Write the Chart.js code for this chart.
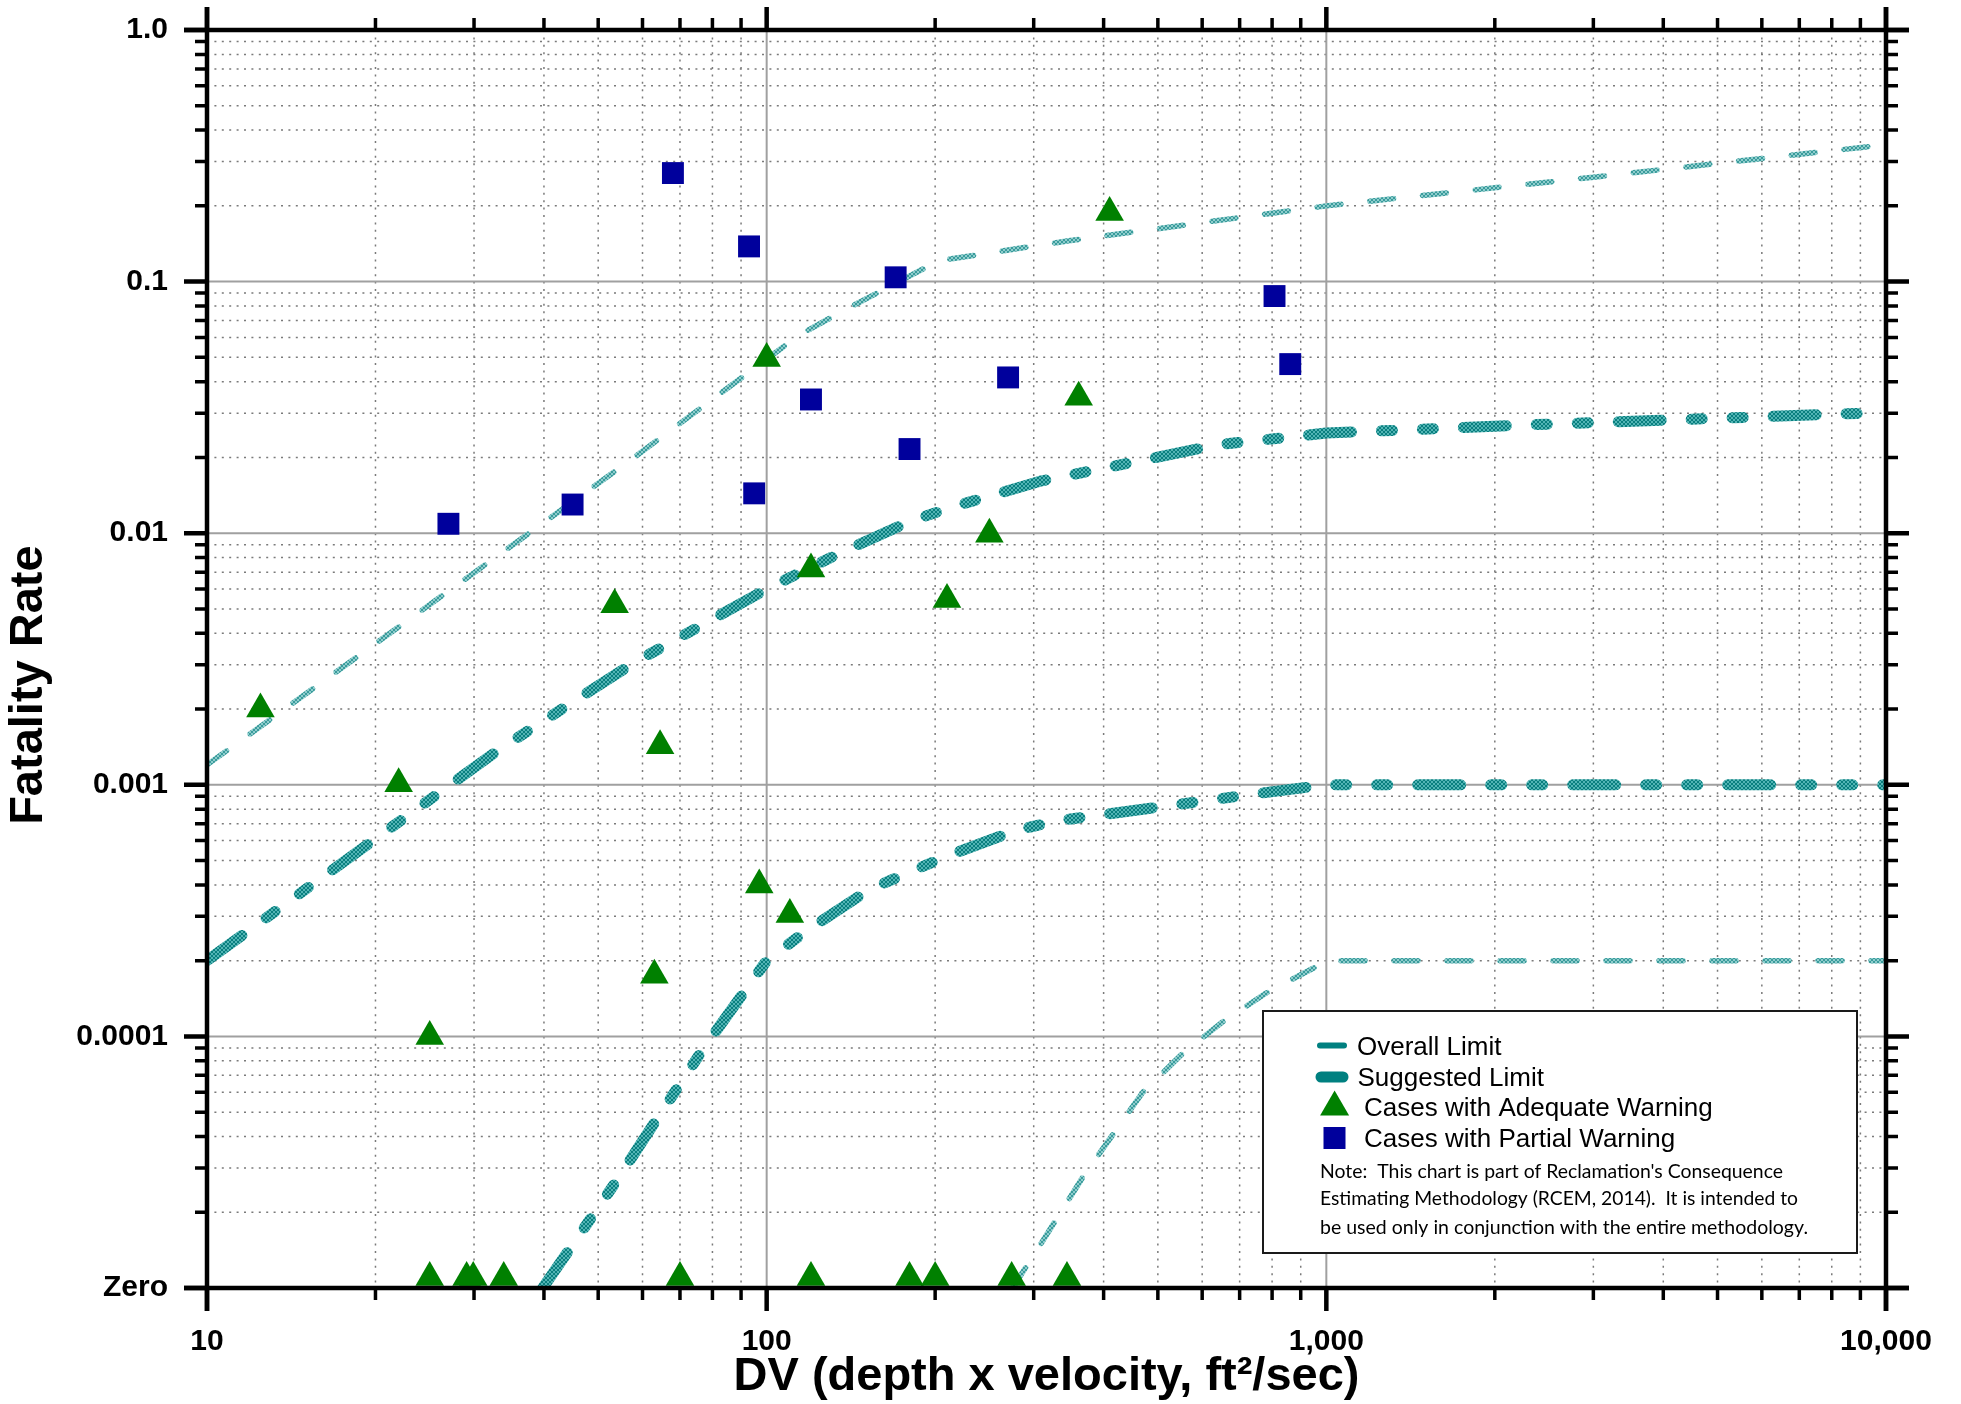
<!DOCTYPE html>
<html>
<head>
<meta charset="utf-8">
<title>Fatality Rate vs DV</title>
<script src="https://cdn.jsdelivr.net/npm/chart.js@4.4.1/dist/chart.umd.min.js"></script>
<style>
  html, body { margin: 0; padding: 0; background: #fff; }
  #wrap { width: 1961px; height: 1404px; position: relative; }
</style>
</head>
<body>
<div id="wrap"><canvas id="fatalityChart"></canvas></div>
<script>
// Axis ticks
const xTickValues = [10, 100, 1000, 10000];
const xTickLabels = ['10', '100', '1,000', '10,000'];
const yTickValues = [0.00001, 0.0001, 0.001, 0.01, 0.1, 1];
const yTickLabels = ['Zero', '0.0001', '0.001', '0.01', '0.1', '1.0'];

// Overall limit curves (DV, fatality rate)
const overallUpperX = [10, 28.1, 56.7, 114, 137, 203, 344, 1000, 3000, 10000];
const overallUpperY = [0.0012, 0.00627, 0.0193, 0.061, 0.0766, 0.121, 0.145, 0.2, 0.26, 0.35];
const overallLowerX = [275, 308, 368, 470, 550, 650, 782, 949, 1000, 10000];
const overallLowerY = [0.00001, 0.0000148, 0.0000278, 0.00006, 0.0000843, 0.0001135, 0.000149, 0.000187, 0.0002, 0.0002];

// Suggested limit curves
const suggestedUpperX = [10, 19.9, 33.4, 57.7, 102, 138, 182, 217, 308, 643, 1000, 2353, 10000];
const suggestedUpperY = [0.0002, 0.000605, 0.00139, 0.00304, 0.00614, 0.00852, 0.01124, 0.0128, 0.0161, 0.0225, 0.025, 0.027, 0.0302];
const suggestedMiddleX = [39.8, 44.5, 54, 64, 77.2, 92, 100, 117.3, 152.7, 210, 280, 333, 532, 748, 1000, 10000];
const suggestedMiddleY = [0.00001, 0.0000143, 0.0000268, 0.0000478, 0.0000898, 0.0001545, 0.0002, 0.000261, 0.000384, 0.000521, 0.000661, 0.000721, 0.00083, 0.000921, 0.001, 0.001];

// Case histories
const adequateX = [410, 361, 100, 120, 250, 210, 53.5, 12.46, 22, 64.5, 97, 110, 63, 25,
                   25, 29.1, 29.9, 33.9, 70, 120, 180, 200, 274, 344];
const adequateY = [0.188, 0.0347, 0.0495, 0.0072, 0.0099, 0.00545, 0.0052, 0.002, 0.00101, 0.00143, 0.0004, 0.000305, 0.000175, 0.0001,
                   0.000011, 0.000011, 0.000011, 0.000011, 0.000011, 0.000011, 0.000011, 0.000011, 0.000011, 0.000011];
const partialX = [68, 93, 170, 120, 270, 180, 95, 45, 27, 808, 862];
const partialY = [0.27, 0.138, 0.104, 0.034, 0.0416, 0.0216, 0.0144, 0.013, 0.0109, 0.0876, 0.047];

const noteLines = [
  "Note:  This chart is part of Reclamation's Consequence",
  "Estimating Methodology (RCEM, 2014).  It is intended to",
  "be used only in conjunction with the entire methodology."
];

Chart.defaults.font.family = '"Liberation Sans", Arial, sans-serif';
Chart.defaults.color = '#000';

const canvas = document.getElementById('fatalityChart');
const ctx = canvas.getContext('2d');

// small crosshatch tile for the limit lines
function hatch(base, line) {
  const tile = document.createElement('canvas');
  tile.width = 4;
  tile.height = 4;
  const t = tile.getContext('2d');
  t.fillStyle = base;
  t.fillRect(0, 0, 4, 4);
  t.fillStyle = line;
  for (let i = 0; i < 4; i++) {
    t.fillRect(i, i, 1, 1);
    t.fillRect(3 - i, i, 1, 1);
  }
  return ctx.createPattern(tile, 'repeat');
}

const toPoints = (xs, ys) => xs.map((x, i) => ({ x, y: ys[i] }));

function minorValues(decades) {
  const out = [];
  decades.forEach(d => { for (let k = 2; k <= 9; k++) out.push(k * d); });
  return out;
}
const xMinor = minorValues([10, 100, 1000]);
const yMinor = minorValues([0.00001, 0.0001, 0.001, 0.01, 0.1]);

const overallStyle = {
  showLine: true, pointRadius: 0, pointHoverRadius: 0, pointHitRadius: 0,
  borderWidth: 5.5, borderColor: hatch('#8fcdcd', '#3a9c9c'),
  borderDash: [24, 29], borderCapStyle: 'round', borderJoinStyle: 'round', order: 2
};
const suggestedStyle = {
  showLine: true, pointRadius: 0, pointHoverRadius: 0, pointHitRadius: 0,
  borderWidth: 11, borderColor: hatch('#52b5b5', '#0a7f7f'),
  borderDash: [43, 30, 11, 30, 11, 30], borderCapStyle: 'round', borderJoinStyle: 'round', order: 2
};

// invisible tick marks only reserve room between axis and labels
const hiddenGrid = len => ({
  display: true, drawOnChartArea: false, drawTicks: true, tickLength: len, color: 'rgba(0,0,0,0)'
});

// Grid, frame with ticks, and the boxed legend
const framePlugin = {
  id: 'frame',
  beforeDatasetsDraw(chart) {
    const { ctx, chartArea: a, scales: { x, y } } = chart;
    ctx.save();
    ctx.strokeStyle = '#7a7a7a';
    ctx.lineWidth = 1.5;
    ctx.setLineDash([2, 5.4]);
    ctx.beginPath();
    xMinor.forEach(v => {
      const px = x.getPixelForValue(v);
      ctx.moveTo(px, a.top); ctx.lineTo(px, a.bottom);
    });
    yMinor.forEach(v => {
      const py = y.getPixelForValue(v);
      ctx.moveTo(a.left, py); ctx.lineTo(a.right, py);
    });
    ctx.stroke();
    ctx.setLineDash([]);
    ctx.strokeStyle = '#a0a0a0';
    ctx.lineWidth = 2;
    ctx.beginPath();
    xTickValues.forEach(v => {
      const px = x.getPixelForValue(v);
      ctx.moveTo(px, a.top); ctx.lineTo(px, a.bottom);
    });
    yTickValues.forEach(v => {
      const py = y.getPixelForValue(v);
      ctx.moveTo(a.left, py); ctx.lineTo(a.right, py);
    });
    ctx.stroke();
    ctx.restore();
  },
  afterDatasetsDraw(chart) {
    const { ctx, chartArea: a, scales: { x, y } } = chart;
    ctx.save();
    ctx.strokeStyle = '#000';
    ctx.lineCap = 'butt';
    const ticks = (xs, ys, len) => {
      ctx.beginPath();
      xs.forEach(v => {
        const px = x.getPixelForValue(v);
        ctx.moveTo(px, a.bottom); ctx.lineTo(px, a.bottom + len);
        ctx.moveTo(px, a.top); ctx.lineTo(px, a.top - len);
      });
      ys.forEach(v => {
        const py = y.getPixelForValue(v);
        ctx.moveTo(a.left, py); ctx.lineTo(a.left - len, py);
        ctx.moveTo(a.right, py); ctx.lineTo(a.right + len, py);
      });
      ctx.stroke();
    };
    ctx.lineWidth = 3.5;
    ticks(xMinor, yMinor, 12);
    ctx.lineWidth = 4.5;
    ticks(xTickValues, yTickValues, 23);
    ctx.beginPath();
    ctx.moveTo(a.left, a.top - 23); ctx.lineTo(a.left, a.bottom + 23);
    ctx.moveTo(a.right, a.top - 23); ctx.lineTo(a.right, a.bottom + 23);
    ctx.moveTo(a.left - 23, a.top); ctx.lineTo(a.right + 23, a.top);
    ctx.moveTo(a.left - 23, a.bottom); ctx.lineTo(a.right + 23, a.bottom);
    ctx.stroke();
    ctx.restore();
  },
  afterDraw(chart) {
    const { ctx, chartArea: a } = chart;
    const bx = a.right - 623, by = a.bottom - 277;
    ctx.save();
    ctx.fillStyle = '#fff';
    ctx.fillRect(bx, by, 594, 242);
    ctx.strokeStyle = '#1a1a1a';
    ctx.lineWidth = 2;
    ctx.strokeRect(bx, by, 594, 242);

    // line samples
    ctx.strokeStyle = '#008080';
    ctx.lineCap = 'round';
    ctx.lineWidth = 6;
    ctx.beginPath(); ctx.moveTo(bx + 57, by + 34.5); ctx.lineTo(bx + 81, by + 34.5); ctx.stroke();
    ctx.lineWidth = 11;
    ctx.beginPath(); ctx.moveTo(bx + 58, by + 66); ctx.lineTo(bx + 80, by + 66); ctx.stroke();

    // marker samples
    ctx.fillStyle = '#008000';
    ctx.beginPath();
    ctx.moveTo(bx + 71.6, by + 79.5);
    ctx.lineTo(bx + 86.1, by + 104.5);
    ctx.lineTo(bx + 57.1, by + 104.5);
    ctx.closePath();
    ctx.fill();
    ctx.fillStyle = '#00009c';
    ctx.fillRect(bx + 60.5, by + 116, 22, 22);

    ctx.fillStyle = '#000';
    ctx.textBaseline = 'alphabetic';
    ctx.font = '26px "Liberation Sans", Arial, sans-serif';
    ctx.fillText('Overall Limit', bx + 94, by + 44);
    ctx.fillText('Suggested Limit', bx + 94.5, by + 74.5);
    ctx.fillText('Cases with Adequate Warning', bx + 101, by + 105);
    ctx.fillText('Cases with Partial Warning', bx + 101, by + 135.5);

    // note, fitted to the widths of the original lines
    ctx.font = '19px Lato, "Open Sans", sans-serif';
    const widths = [463, 478, 488];
    const bases = [166.5, 194, 222.5];
    noteLines.forEach((s, i) => {
      const w = ctx.measureText(s).width;
      ctx.save();
      ctx.translate(bx + 57, by + bases[i]);
      ctx.scale(widths[i] / w, 1);
      ctx.fillText(s, 0, 0);
      ctx.restore();
    });
    ctx.restore();
  }
};

new Chart(ctx, {
  type: 'scatter',
  data: {
    datasets: [
      {
        label: 'Cases with Partial Warning', data: toPoints(partialX, partialY),
        pointStyle: 'rect', pointRadius: 15.5, pointHoverRadius: 15.5,
        pointBackgroundColor: '#00009c', pointBorderWidth: 0, order: 0
      },
      {
        label: 'Cases with Adequate Warning', data: toPoints(adequateX, adequateY),
        pointStyle: 'triangle', pointRadius: 16.5, pointHoverRadius: 16.5,
        pointBackgroundColor: '#008000', pointBorderWidth: 0, order: 0
      },
      { label: 'Overall Limit', data: toPoints(overallUpperX, overallUpperY), ...overallStyle },
      { label: 'Overall Limit', data: toPoints(overallLowerX, overallLowerY), ...overallStyle },
      { label: 'Suggested Limit', data: toPoints(suggestedUpperX, suggestedUpperY), ...suggestedStyle },
      { label: 'Suggested Limit', data: toPoints(suggestedMiddleX, suggestedMiddleY), ...suggestedStyle }
    ]
  },
  options: {
    responsive: true,
    maintainAspectRatio: false,
    animation: false,
    events: [],
    layout: { padding: { top: 30, right: 75, bottom: 0, left: 0 } },
    plugins: { legend: { display: false }, tooltip: { enabled: false } },
    scales: {
      x: {
        type: 'logarithmic',
        position: 'bottom',
        min: 10,
        max: 10000,
        grid: hiddenGrid(26),
        border: { display: false },
        afterBuildTicks: s => { s.ticks = xTickValues.map(v => ({ value: v })); },
        afterFit: s => { s.height = 116; },
        ticks: {
          autoSkip: false, maxRotation: 0, minRotation: 0, padding: 10,
          font: { size: 30, weight: 'bold' },
          callback: v => { const i = xTickValues.indexOf(v); return i < 0 ? '' : xTickLabels[i]; }
        },
        title: {
          display: true,
          text: 'DV (depth x velocity, ft\u00b2/sec)',
          font: { size: 47, weight: 'bold', lineHeight: 1 },
          padding: { top: 0, bottom: 3 }
        }
      },
      y: {
        type: 'logarithmic',
        position: 'left',
        min: 0.00001,
        max: 1,
        grid: hiddenGrid(29),
        border: { display: false },
        afterBuildTicks: s => { s.ticks = yTickValues.map(v => ({ value: v })); },
        afterFit: s => { s.width = 207; },
        ticks: {
          autoSkip: false, padding: 10,
          font: { size: 30, weight: 'bold' },
          callback: v => { const i = yTickValues.indexOf(v); return i < 0 ? '' : yTickLabels[i]; }
        },
        title: {
          display: true,
          text: 'Fatality Rate    ',
          font: { size: 47, weight: 'bold', lineHeight: 1 },
          padding: { top: 6, bottom: 0 }
        }
      }
    }
  },
  plugins: [framePlugin]
});
</script>
</body>
</html>
